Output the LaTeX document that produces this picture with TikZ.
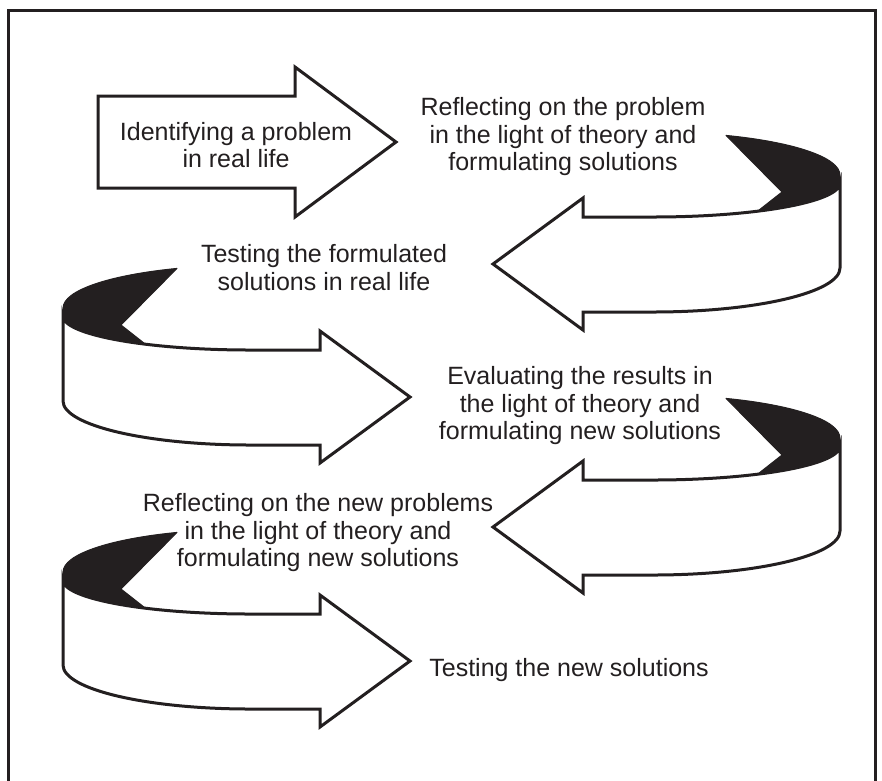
\documentclass[tikz,border=0pt]{standalone}
\usepackage{fontspec}
\setmainfont{Liberation Sans}
\definecolor{ink}{RGB}{35,31,32}
\tikzset{
  arrowbody/.style={draw=ink, line width=3pt, line join=miter, fill=white},
  arrowback/.style={fill=ink, draw=ink, line width=1pt, line join=round},
  steptext/.style={text=ink, align=center, font=\fontsize{25}{27.5}\selectfont, inner sep=0pt},
  borderline/.style={draw=ink, line width=3pt}
}
\newcommand\ribbonshape{%
  \path[arrowback] (726,135.4) arc[start angle=67, end angle=0, x radius=187pt, y radius=43pt]
     -- (840,183) arc[start angle=0, end angle=-56, x radius=187pt, y radius=34pt]
     -- (782,192) -- cycle;
  \path[arrowbody] (840,183) -- (840,268)
     arc[start angle=0, end angle=-90, x radius=187pt, y radius=44pt]
     -- (583,312) -- (583,330) -- (493,264) -- (583,198) -- (583,217) -- (653,217)
     arc[start angle=-90, end angle=0, x radius=187pt, y radius=34pt] -- cycle;
}
\begin{document}
\begin{tikzpicture}[x=1pt, y=-1pt]
  \useasboundingbox (0,0) rectangle (882,780);
  \clip (0,0) rectangle (882,780);
  \draw[borderline] (8.5,10) rectangle (875.5,800);
  % arrow 1
  \path[arrowbody] (98,96) -- (295,96) -- (295,67) -- (396,142) -- (295,217) -- (295,188) -- (98,188) -- cycle;
  % arrow 2
  \ribbonshape
  % arrow 3
  \begin{scope}[shift={(903,133)}, xscale=-1]\ribbonshape\end{scope}
  % arrow 4
  \begin{scope}[shift={(0,263)}]\ribbonshape\end{scope}
  % arrow 5
  \begin{scope}[shift={(903,397)}, xscale=-1]\ribbonshape\end{scope}
  % texts
  \node[steptext] (t1) at (236,145) {Identifying a problem\\in real life};
  \node[steptext] (t2) at (563,137) {Reflecting on the problem\\in the light of theory and\\formulating solutions};
  \node[steptext] (t3) at (324,267.5) {Testing the formulated\\solutions in real life};
  \node[steptext] (t4) at (580,406) {Evaluating the results in\\the light of theory and\\formulating new solutions};
  \node[steptext] (t5) at (318,533) {Reflecting on the new problems\\in the light of theory and\\formulating new solutions};
  \node[steptext] (t6) at (569,670) {Testing the new solutions};
\end{tikzpicture}
\end{document}
